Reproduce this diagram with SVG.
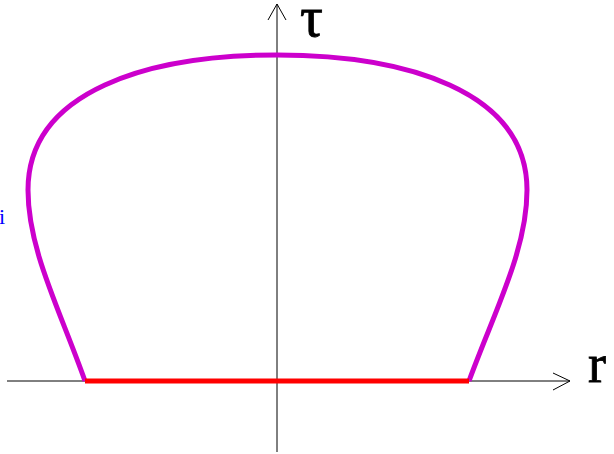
<svg xmlns="http://www.w3.org/2000/svg" width="614" height="454" viewBox="0 0 614 454">
<style>
.axis{stroke:#000;stroke-width:1;fill:none}
.lbl{font-family:"Liberation Serif",serif;fill:#000;stroke:#000;stroke-width:0.8}
</style>
<rect width="614" height="454" fill="#fff"/>
<g id="connectors">
<line class="axis" x1="7" y1="381" x2="570" y2="381"/>
<polyline class="axis" points="553,373 570,381 553,390"/>
<line class="axis" x1="277" y1="452" x2="277" y2="4"/>
<polyline class="axis" points="268,20 277,4 286,20"/>
</g>
<g id="curve">
<path d="M 85 381 C 60 310, 28 250, 28 190 C 28 90, 150 55, 277 55 C 404 55, 527 90, 527 190 C 527 250, 495 310, 469 381" fill="none" stroke="#CC00CC" stroke-width="5"/>
</g>
<g id="base">
<line x1="85" y1="381" x2="469" y2="381" stroke="#FF0000" stroke-width="5"/>
</g>
<g id="labels">
<text class="lbl" x="300" y="36" font-size="57">τ</text>
<text class="lbl" x="588" y="382" font-size="54">r</text>
<text x="-1" y="224" font-family="Liberation Serif,serif" font-size="22" fill="#0000FF">i</text>
</g>
</svg>
